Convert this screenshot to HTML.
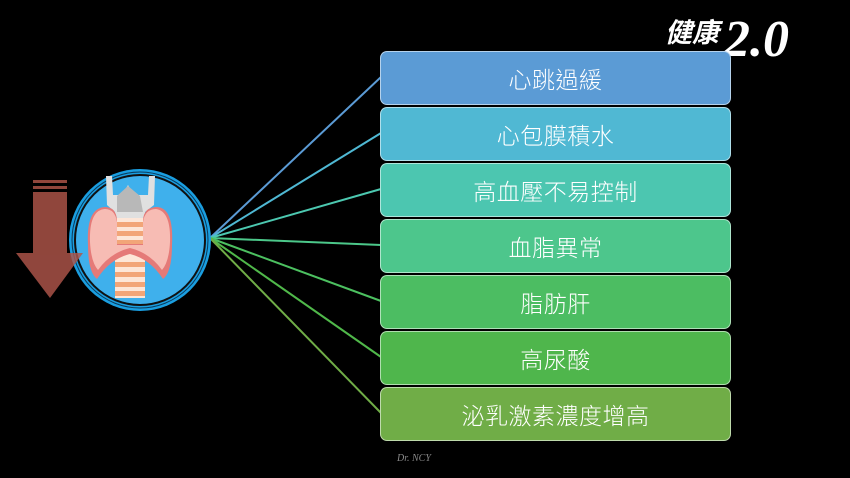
<!DOCTYPE html>
<html><head><meta charset="utf-8"><style>
html,body{margin:0;padding:0;background:#000;width:850px;height:478px;overflow:hidden}
.b{position:absolute;left:380px;width:351px;height:54px;border-radius:7px;border:1px solid rgba(255,255,255,0.55);box-sizing:border-box;color:#fff;font:300 23px "Liberation Sans","Noto Sans CJK TC",sans-serif;letter-spacing:0.5px;display:flex;align-items:center;justify-content:center}
</style></head><body>
<svg width="850" height="478" style="position:absolute;left:0;top:0">
<g stroke-width="2" fill="none">
<line x1="210" y1="238" x2="381" y2="77" stroke="#5b9bd5"/>
<line x1="210" y1="238" x2="381" y2="133" stroke="#4fb8d3"/>
<line x1="210" y1="238" x2="381" y2="189" stroke="#4cc8b0"/>
<line x1="210" y1="238" x2="381" y2="245" stroke="#4cc88a"/>
<line x1="210" y1="238" x2="381" y2="301" stroke="#4cc060"/>
<line x1="210" y1="238" x2="381" y2="357" stroke="#50b84a"/>
<line x1="210" y1="238" x2="381" y2="413" stroke="#70ad47"/>
</g>
<circle cx="140" cy="240" r="71" fill="#1a9ee0"/>
<circle cx="140" cy="240" r="64" fill="#3fb0ec"/>
<circle cx="140" cy="240" r="65" fill="none" stroke="#111" stroke-width="2"/>
<circle cx="140" cy="240" r="68" fill="none" stroke="#0b3a5a" stroke-width="1"/>
<path d="M106 176 L112 176 L113 195 L122 195 L128 185 L134 195 L148 195 L149 176 L155 176 L154 205 L145 212 L145 220 L115 220 L115 212 L107 205 Z" fill="#e0e0e0"/>
<path d="M117 196 L128 186 L140 196 L143 212 L117 212 Z" fill="#b8b8b8"/>
<rect x="115" y="218" width="30" height="80" fill="#fde6d8"/>
<g fill="#f2a578"><rect x="115" y="222" width="30" height="5"/><rect x="115" y="231" width="30" height="5"/><rect x="115" y="240" width="30" height="4"/><rect x="115" y="262" width="30" height="5"/><rect x="115" y="272" width="30" height="5"/><rect x="115" y="282" width="30" height="5"/><rect x="115" y="291" width="30" height="5"/></g>
<path d="M88 245 Q86 208 105 207 Q116 207 117 220 L117 244 L143 244 L143 220 Q144 207 157 207 Q174 208 172 245 Q172 272 163 279 Q150 259 130 254 Q110 259 97 279 Q88 272 88 245 Z" fill="#e57a78"/>
<path d="M90 242 Q89 210 105 209 Q115 209 117 222 L117 245 L143 245 L143 222 Q145 209 156 209 Q171 211 170 242 Q169 262 162 270 Q150 253 130 248 Q110 253 98 270 Q91 262 90 242 Z" fill="#f7bcb4"/>
<g fill="#b0564a" opacity="0.82">
<rect x="33" y="180" width="34" height="3"/><rect x="33" y="186" width="34" height="3"/>
<rect x="33" y="192" width="34" height="61"/>
<polygon points="16,253 83,253 50,298"/>
</g>
<text x="397" y="461" fill="#888" font-family="Liberation Serif,serif" font-style="italic" font-size="10">Dr. NCY</text>
<text x="665" y="42" fill="#fff" font-family="Liberation Sans,Noto Sans CJK TC,sans-serif" font-weight="bold" font-style="italic" font-size="27">健康</text>
<text x="724" y="56" fill="#fff" font-family="Liberation Serif,serif" font-style="italic" font-weight="bold" font-size="52">2.0</text>
</svg>
<div class="b" style="top:51px;background:#5b9bd5">心跳過緩</div>
<div class="b" style="top:107px;background:#50b8d3">心包膜積水</div>
<div class="b" style="top:163px;background:#4cc6b0">高血壓不易控制</div>
<div class="b" style="top:219px;background:#4dc68c">血脂異常</div>
<div class="b" style="top:275px;background:#4cbd62">脂肪肝</div>
<div class="b" style="top:331px;background:#4fb64c">高尿酸</div>
<div class="b" style="top:387px;background:#70ad47">泌乳激素濃度增高</div>
</body></html>
